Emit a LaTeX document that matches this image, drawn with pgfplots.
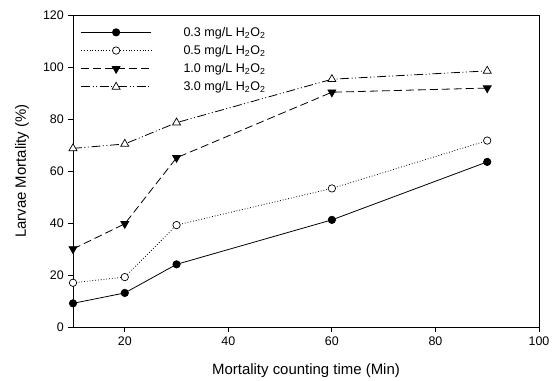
\documentclass[border=0pt]{standalone}
\usepackage{pgfplots}
\pgfplotsset{compat=1.18}
\usepackage{fontspec}
\setmainfont{Liberation Sans}
\begin{document}
\fontsize{12}{14}\selectfont
\begin{tikzpicture}
\begin{axis}[
  scale only axis,
  width=466bp, height=312bp,
  xmin=10, xmax=100, ymin=0, ymax=120,
  xtick={20,40,60,80,100},
  ytick={0,20,40,60,80,100,120},
  tick align=outside,
  xtick pos=left, ytick pos=left,
  major tick length=5bp,
  axis line style={line width=0.9bp},
  tick style={line width=0.9bp, black},
  /pgf/number format/assume math mode=true,
  tick label style={font=\fontsize{12.5}{14}\selectfont},
  xticklabel style={yshift=-1bp},
  xlabel={Mortality counting time (Min)},
  ylabel={Larvae Mortality (\%)},
  every axis x label/.style={at={(axis description cs:0.5,0)}, yshift=-44bp, anchor=center, font=\fontsize{15}{17}\selectfont},
  every axis y label/.style={at={(axis description cs:0,0.5)}, xshift=-51bp, rotate=90, anchor=center, font=\fontsize{15}{17}\selectfont},
  legend style={draw=none, fill=none, at={(0.014,0.972)}, anchor=north west,
    font=\fontsize{12.6}{15}\selectfont, row sep=3.3bp, inner sep=1bp,
    /tikz/every odd column/.append style={column sep=30bp}},
  legend cell align=left,
  legend image code/.code={\draw[mark repeat=2,mark phase=2] plot coordinates {(0bp,0bp) (35bp,0bp) (70bp,0bp)};},
  every axis plot/.append style={black, line width=0.8bp},
]
\addplot[solid, mark=*, mark size=3.7bp, mark options={solid, fill=black, line width=0.7bp}] coordinates {(10,9.1) (20,13.1) (30,24.1) (60,41.2) (90,63.5)};
\addlegendentry{0.3 mg/L H\textsubscript{2}O\textsubscript{2}}
\addplot[dotted, mark=*, mark size=3.7bp, mark options={solid, fill=white, line width=0.7bp}] coordinates {(10,17.0) (20,19.2) (30,39.2) (60,53.3) (90,71.7)};
\addlegendentry{0.5 mg/L H\textsubscript{2}O\textsubscript{2}}
\addplot[dash pattern=on 8bp off 4bp, mark=triangle*, mark size=4.6bp, mark options={solid, fill=black, rotate=180, line width=0.7bp}] coordinates {(10,30.0) (20,39.7) (30,65.1) (60,90.3) (90,91.9)};
\addlegendentry{1.0 mg/L H\textsubscript{2}O\textsubscript{2}}
\addplot[dash pattern=on 9bp off 2.5bp on 1bp off 2.5bp on 1bp off 2.5bp, mark=triangle*, mark size=4.6bp, mark options={solid, fill=white, line width=0.7bp}] coordinates {(10,68.7) (20,70.4) (30,78.6) (60,95.3) (90,98.5)};
\addlegendentry{3.0 mg/L H\textsubscript{2}O\textsubscript{2}}
\end{axis}
\pgfresetboundingbox
\path (current axis.south west) ++(-73bp,-54bp) coordinate (bbsw);
\path (current axis.north east) ++(14bp,15bp) coordinate (bbne);
\useasboundingbox (bbsw) rectangle (bbne);
\end{tikzpicture}
\end{document}
